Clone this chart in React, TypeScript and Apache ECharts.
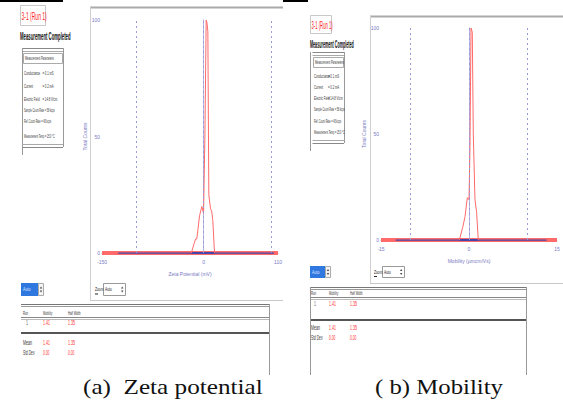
import React, { useEffect, useRef } from "react";
import * as echarts from "echarts";

// ---- Data ----
const zetaX = [-150, -18, -14, -11.8, -10, -8.3, -5.9, -2.5, 0, 2, 3.9, 5, 6.4, 7.8, 10.3, 12, 13.7, 16.2, 110];
const zetaCounts = [0, 0, 4, 6, 6, 10, 16, 20, 17, 50, 100, 99, 95, 25, 19, 18, 14, 0, 0];
const zetaBaselineX = [-150, 110];
const zetaReferenceX = [-126, 104];
const zetaGridLines = [-100, 0, 100];
const zetaTicks = [-150, 0, 110];

const mobilityX = [-15, -1.64, -1.07, -0.68, -0.28, 0, 0.17, 0.34, 0.56, 0.73, 1.02, 1.3, 1.58, 15];
const mobilityCounts = [0, 0, 6, 11, 20, 19, 44, 100, 98, 50, 19, 13, 0, 0];
const mobilityBaselineX = [-15, 15];
const mobilityReferenceX = [-12.5, 13.2];
const mobilityGridLines = [-10, 0, 10];
const mobilityTicks = [-15, 0, 15];

const countTicks = [0, 50, 100];

const runTitle = "3-1 (Run 1)";
const statusText = "Measurement Completed";
const paramHeader = "Measurement Parameters";
const paramLabels = ["Conductance", "Current", "Electric Field", "Sample Count Rate", "Ref. Count Rate", "Measurement Temp"];
const paramValues = ["= 0.1 mS", "= 0.2 mA", "= 14.8 V/cm", "= 58 kcps", "= 45 kcps", "= 25.0 °C"];
const resultColumns = ["Run", "Mobility", "Half Width"];
const runRow = ["1", "1.41", "1.35"];
const meanRow = ["Mean", "1.41", "1.35"];
const stdRow = ["Std Dev", "0.00", "0.00"];
const captions = ["(a)  Zeta potential", "( b) Mobility"];

// ---- graphic helpers ----
const SANS = "Liberation Sans";
function txt(x: number, y: number, text: string, size: number, o: any = {}) {
  return {
    type: "text",
    x,
    y,
    scaleX: o.sx ?? 1,
    silent: true,
    z: 20,
    style: {
      text,
      fontSize: size,
      fill: o.color ?? "#222",
      fontFamily: o.font ?? SANS,
      fontWeight: o.bold ? "bold" : "normal",
      verticalAlign: "middle",
      align: o.align ?? "left",
    },
  };
}
function ln(x1: number, y1: number, x2: number, y2: number, color = "#999", w = 1) {
  return { type: "line", silent: true, z: 15, shape: { x1, y1, x2, y2 }, style: { stroke: color, lineWidth: w } };
}
function rc(x: number, y: number, w: number, h: number, fill: string, stroke = "none", lw = 1) {
  return { type: "rect", silent: true, z: 12, shape: { x, y, width: w, height: h }, style: { fill, stroke, lineWidth: lw } };
}

function sidePanel(ox: number, oy: number, titleW: number, titleH: number, statusW: number, tableW: number, rowYs: number[], tableTop: number, tableBottom: number, leftX: number) {
  const els: any[] = [];
  els.push(rc(ox + 0.5, oy + 0.5, titleW, titleH, "#fff", "#c8c8c8"));
  els.push(txt(ox + 1.5, oy + titleH / 2 + 1.5, runTitle, 10, { color: "#ff2020", sx: titleW / 50 }));
  els.push(txt(ox, oy + titleH + 12, statusText, 10, { bold: true, color: "#111", sx: statusW / 122 }));
  const tx = ox + 2;
  els.push(ln(tx + 0.5, tableTop + 0.5, tx + tableW, tableTop + 0.5, "#888"));
  els.push(ln(tx + 0.5, tableTop + 3.5, tx + tableW, tableTop + 3.5, "#aaa"));
  els.push(rc(tx + 1.5, tableTop + 5.5, tableW - 2, 10, "#fff", "#aaa"));
  els.push(txt(tx + 3, tableTop + 10.5, paramHeader, 5, { sx: 0.5, color: "#333" }));
  els.push(ln(leftX + 0.5, tableTop, leftX + 0.5, tableBottom + 8, "#999"));
  els.push(ln(tx + tableW + 0.5, tableTop, tx + tableW + 0.5, tableBottom, "#999"));
  els.push(ln(tx + 0.5, tableBottom - 2.5, tx + tableW, tableBottom - 2.5, "#aaa"));
  els.push(ln(tx + 0.5, tableBottom + 0.5, tx + tableW, tableBottom + 0.5, "#888"));
  rowYs.forEach((y, i) => {
    if (i < 3) {
      els.push(txt(tx + 2, y, paramLabels[i], 5.5, { sx: 0.5, color: "#333" }));
      els.push(txt(tx + tableW * 0.5, y, paramValues[i], 5.5, { sx: 0.5, color: "#333" }));
    } else {
      els.push(txt(tx + 2, y, paramLabels[i] + " " + paramValues[i], 5.5, { sx: 0.42, color: "#333" }));
    }
  });
  return els;
}

function updown(cx: number, cy: number) {
  return [
    { type: "polygon", silent: true, z: 20, shape: { points: [[cx - 1.2, cy - 1], [cx + 1.2, cy - 1], [cx, cy - 3]] }, style: { fill: "#444" } },
    { type: "polygon", silent: true, z: 20, shape: { points: [[cx - 1.2, cy + 1], [cx + 1.2, cy + 1], [cx, cy + 3]] }, style: { fill: "#444" } },
  ];
}

function controls(selX: number, selY: number, selW: number, selH: number, zoomX: number, zoomY: number) {
  const els: any[] = [];
  els.push(rc(selX, selY, selW, selH, "#2f78e0"));
  els.push(txt(selX + 2, selY + selH / 2, "Auto", 6, { color: "#dfe9ff", sx: 0.6 }));
  els.push(rc(selX + selW + 0.5, selY + 0.5, 5, selH - 1, "#f4f4f4", "#aaa"));
  els.push(...updown(selX + selW + 3, selY + selH / 2));
  els.push(txt(zoomX, zoomY + selH / 2, "Zoom", 6, { sx: 0.55, color: "#222" }));
  els.push(ln(zoomX, zoomY + selH / 2 + 4.5, zoomX + 3, zoomY + selH / 2 + 4.5, "#222"));
  els.push(rc(zoomX + 8.5, zoomY + 0.5, 22, selH - 1, "#fff", "#999"));
  els.push(txt(zoomX + 10, zoomY + selH / 2, "Auto", 6, { sx: 0.55, color: "#222" }));
  els.push(...updown(zoomX + 27.2, zoomY + selH / 2));
  return els;
}

function resultTable(x1: number, x2: number, top: number, headY: number, headLine: number, runY: number, thick: number, meanY: number, stdY: number, bottom: number, cols: number[], leftBorder: boolean) {
  const els: any[] = [];
  els.push(ln(x1, top + 0.5, x2, top + 0.5, "#777", 1));
  els.push(ln(x1, top + 2.5, x2, top + 2.5, "#999", 1));
  els.push(ln(x1, headLine + 0.5, x2, headLine + 0.5, "#888", 1));
  els.push(ln(x1, headLine + 2.5, x2, headLine + 2.5, "#bbb", 1));
  els.push(ln(x1, thick, x2, thick, "#555", 2));
  if (leftBorder) els.push(ln(x1 + 0.5, top, x1 + 0.5, bottom, "#999"));
  els.push(ln(x2 + 0.5, top, x2 + 0.5, bottom, "#999"));
  resultColumns.forEach((c, i) => els.push(txt(cols[i], headY, c, 5.5, { sx: 0.5, color: "#333" })));
  runRow.forEach((c, i) => els.push(txt(cols[i] + (i === 0 ? 3 : 0), runY, c, 6.5, { sx: 0.55, color: i === 0 ? "#666" : "#ff3030" })));
  meanRow.forEach((c, i) => els.push(txt(cols[i], meanY, c, 6.5, { sx: 0.55, color: i === 0 ? "#333" : "#ff3030" })));
  stdRow.forEach((c, i) => els.push(txt(cols[i], stdY, c, 6.5, { sx: 0.5, color: i === 0 ? "#333" : "#ff3030" })));
  return els;
}

const AXIS = "#b4b4e6";
const LBL = "#7a7ac4";
const RED = "#ff6a6a";
const BLUE = "#4646aa";

function xAxisCfg(grid: number, min: number, max: number, ticks: number[], name: string) {
  return {
    gridIndex: grid,
    type: "value",
    min,
    max,
    axisLine: { show: true, lineStyle: { color: AXIS } },
    axisTick: { show: false },
    splitLine: { show: false },
    axisLabel: { customValues: ticks, fontSize: 5, color: LBL, margin: 6, fontFamily: SANS },
    name,
    nameLocation: "middle",
    nameGap: 18,
    nameTextStyle: { fontSize: 5, color: LBL, fontFamily: SANS },
  };
}
function yAxisCfg(grid: number) {
  return {
    gridIndex: grid,
    type: "value",
    min: countTicks[0],
    max: countTicks[countTicks.length - 1],
    interval: countTicks[1] - countTicks[0],
    axisLine: { show: true, lineStyle: { color: AXIS } },
    axisTick: { show: false },
    splitLine: { show: false },
    axisLabel: { fontSize: 5, color: LBL, margin: 2, fontFamily: SANS, showMinLabel: true, showMaxLabel: true },
    name: "Total Counts",
    nameLocation: "middle",
    nameGap: 10,
    nameRotate: 90,
    nameTextStyle: { fontSize: 5, color: LBL, fontFamily: SANS },
  };
}
function seriesFor(idx: number, xs: number[], ys: number[], base: number[], ref: number[], grid: number[]) {
  return [
    {
      type: "line",
      xAxisIndex: idx,
      yAxisIndex: idx,
      data: base.map((x) => [x, 0]),
      symbol: "none",
      lineStyle: { color: RED, width: 4 },
      z: 2,
    },
    {
      type: "line",
      xAxisIndex: idx,
      yAxisIndex: idx,
      data: ref.map((x) => [x, 0]),
      symbol: "none",
      lineStyle: { color: BLUE, width: 2 },
      z: 3,
      markLine: {
        silent: true,
        symbol: ["none", "none"],
        label: { show: false },
        lineStyle: { type: [2, 3], color: "#9a9ad4", width: 1 },
        data: grid.map((v) => ({ xAxis: v })),
      },
    },
    {
      type: "line",
      xAxisIndex: idx,
      yAxisIndex: idx,
      data: xs.map((x, i) => [x, ys[i]]),
      symbol: "none",
      lineStyle: { color: RED, width: 1 },
      z: 4,
    },
  ];
}

export default function App() {
  const ref = useRef<HTMLDivElement>(null);
  useEffect(() => {
    if (!ref.current) return;
    const chart = echarts.init(ref.current, null, { renderer: "svg" });
    const graphics: any[] = [];
    graphics.push(rc(0, 0, 63, 2, "#000"));
    graphics.push(rc(283, 0, 25, 2, "#000"));
    // chart panels (left one is cut on its right side)
    graphics.push(ln(90, 7.5, 283, 7.5, "#aaa", 2));
    graphics.push(ln(90.5, 7, 90.5, 300.5, "#d0d0d0", 1));
    graphics.push(ln(90, 300.5, 283, 300.5, "#c8c8c8", 1));
    graphics.push(ln(370, 16.5, 563, 16.5, "#aaa", 2));
    graphics.push(ln(370.5, 16, 370.5, 283.5, "#d0d0d0", 1));
    graphics.push(ln(370, 283.5, 563, 283.5, "#c8c8c8", 1));
    // side panels
    graphics.push(...sidePanel(20, 5, 25, 20, 52, 41, [73, 86, 99, 110, 121, 136], 48, 147, 22));
    graphics.push(...sidePanel(310, 15, 21, 18, 45, 32, [76, 87, 98, 109, 121, 132], 52, 143, 310));
    // controls
    graphics.push(...controls(21, 283, 17, 13, 95, 283));
    graphics.push(...controls(310, 266, 15, 12, 374, 266));
    // result tables
    graphics.push(...resultTable(21, 269, 304, 313, 317, 323, 333, 343, 352, 375, [23, 43, 68], false));
    graphics.push(...resultTable(310, 526, 287, 293, 297, 304, 320, 328, 337, 375, [311, 329, 350], true));
    // captions
    graphics.push(txt(83, 387, captions[0], 21, { font: "Liberation Serif", color: "#111", sx: 1.2 }));
    graphics.push(txt(375, 387, captions[1], 21, { font: "Liberation Serif", color: "#111", sx: 1.18 }));

    chart.setOption({
      animation: false,
      backgroundColor: "#fff",
      grid: [
        { left: 102, top: 20, width: 176, height: 233 },
        { left: 381, top: 28, width: 176, height: 212 },
      ],
      xAxis: [
        xAxisCfg(0, zetaTicks[0], zetaTicks[2], zetaTicks, "Zeta Potential (mV)"),
        xAxisCfg(1, mobilityTicks[0], mobilityTicks[2], mobilityTicks, "Mobility (µmcm/Vs)"),
      ],
      yAxis: [yAxisCfg(0), yAxisCfg(1)],
      series: [
        ...seriesFor(0, zetaX, zetaCounts, zetaBaselineX, zetaReferenceX, zetaGridLines),
        ...seriesFor(1, mobilityX, mobilityCounts, mobilityBaselineX, mobilityReferenceX, mobilityGridLines),
      ],
      graphic: graphics,
    });
    return () => chart.dispose();
  }, []);
  return <div ref={ref} style={{ position: "absolute", left: 0, top: 0, width: 563, height: 403 }} />;
}
